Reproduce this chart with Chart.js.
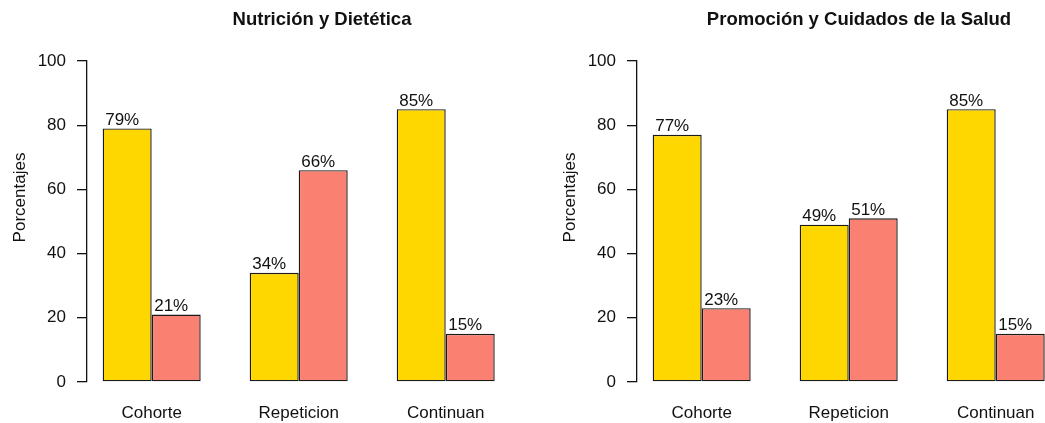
<!DOCTYPE html>
<html><head><meta charset="utf-8">
<script src="https://cdn.jsdelivr.net/npm/chart.js@4"></script>
<style>
html,body{margin:0;padding:0;width:1045px;height:423px;overflow:hidden;background:#fff}
.p{position:absolute;top:0;width:540px;height:423px}
</style></head><body>
<div class="p" style="left:0"><canvas id="c1" width="540" height="423"></canvas></div>
<div class="p" style="left:550px"><canvas id="c2" width="540" height="423"></canvas></div>
<script>
// ---- data ----
const categories = ['Cohorte', 'Repeticion', 'Continuan'];
const seriesNames = ['Sí', 'No'];
const nutricionSi = [79, 34, 85];
const nutricionNo = [21, 66, 15];
const promocionSi = [77, 49, 85];
const promocionNo = [23, 51, 15];
const yTicks = [0, 20, 40, 60, 80, 100];
const titles = ['Nutrición y Dietética', 'Promoción y Cuidados de la Salud'];
const yTitle = 'Porcentajes';

// ---- style ----
const FONT = '"Liberation Sans", Arial, sans-serif';
const INK = '#111';
const GOLD = '#FFD700';
const SALMON = '#FA8072';
const groupPos = categories.map((_, i) => 2 + 3 * i);

const textPlugin = {
  id: 'panelText',
  afterDatasetsDraw(chart, args, opts) {
    const ctx = chart.ctx;
    ctx.save();
    ctx.fillStyle = INK;
    ctx.font = '17px ' + FONT;
    ctx.textAlign = 'center';
    ctx.textBaseline = 'alphabetic';
    chart.data.datasets.forEach((ds, di) => {
      chart.getDatasetMeta(di).data.forEach((bar, i) => {
        ctx.fillText(ds.data[i].y + '%', bar.x - 5, bar.y - 3.5);
      });
    });
    ctx.font = 'bold 18.5px ' + FONT;
    ctx.fillText(opts.title, opts.titleX, 25);
    ctx.font = '17px ' + FONT;
    ctx.translate(25, 197.5);
    ctx.rotate(-Math.PI / 2);
    ctx.fillText(yTitle, 0, 0);
    ctx.restore();
  }
};

function makeChart(id, title, titleX, a, b) {
  return new Chart(document.getElementById(id), {
    type: 'bar',
    data: {
      datasets: [
        { label: seriesNames[0], data: a.map((v, i) => ({ x: groupPos[i], y: v })),
          backgroundColor: GOLD, borderColor: '#1a1a1a', borderWidth: 1.4, borderSkipped: false },
        { label: seriesNames[1], data: b.map((v, i) => ({ x: groupPos[i], y: v })),
          backgroundColor: SALMON, borderColor: '#1a1a1a', borderWidth: 1.4, borderSkipped: false }
      ]
    },
    options: {
      responsive: false, animation: false, devicePixelRatio: 1,
      layout: { padding: { top: 61, right: 29.6, left: 0, bottom: 0 } },
      datasets: { bar: { categoryPercentage: 2 / 3, barPercentage: 1 } },
      plugins: {
        legend: { display: false }, tooltip: { enabled: false }, title: { display: false },
        panelText: { title: title, titleX: titleX }
      },
      scales: {
        x: {
          type: 'linear', min: 0.68, max: 9.32, offset: false,
          grid: { display: false, offset: false }, border: { display: false },
          afterBuildTicks: s => { s.ticks = groupPos.map(v => ({ value: v })); },
          ticks: { callback: v => categories[groupPos.indexOf(v)], font: { family: FONT, size: 17 },
                   color: INK, padding: 13, maxRotation: 0, autoSkip: false },
          afterFit: s => { s.height = 41; }
        },
        y: {
          min: 0, max: 100,
          afterBuildTicks: s => { s.ticks = yTicks.map(v => ({ value: v })); },
          grid: { drawOnChartArea: false, drawTicks: true, tickLength: 10, color: INK, lineWidth: 1.3, offset: false },
          border: { display: true, color: INK, width: 1.3 },
          ticks: { padding: 11, font: { family: FONT, size: 17 }, color: INK },
          afterFit: s => { s.width = 87; }
        }
      }
    },
    plugins: [textPlugin]
  });
}

makeChart('c1', titles[0], 322, nutricionSi, nutricionNo);
makeChart('c2', titles[1], 309, promocionSi, promocionNo);
</script>
</body></html>
